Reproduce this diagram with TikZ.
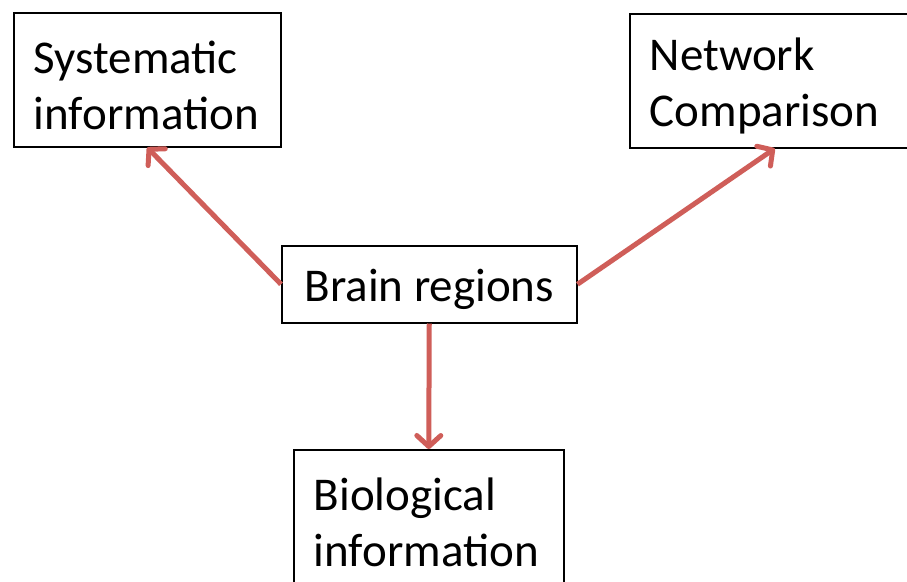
\documentclass[tikz,border=0pt]{standalone}
\usepackage{fontspec}
\setmainfont{Carlito}
\usetikzlibrary{arrows.meta}
\definecolor{arrowred}{HTML}{CF5E59}
\tikzset{
  box/.style={draw=black, line width=1.5pt, rectangle, anchor=north west,
    align=left, inner xsep=20pt, inner ysep=0pt,
    font=\fontsize{47}{56}\selectfont,
    execute at begin node={\rule{0pt}{43pt}}},
  tallbox/.style={box, minimum height=134pt},
  link/.style={draw=arrowred, line width=5pt,
    -{Straight Barb[length=11pt,width=24pt,line width=5pt,round]}}
}
\begin{document}
\begin{tikzpicture}[x=1pt,y=-1pt]
\useasboundingbox (0,0) rectangle (907,581);
\node[tallbox, minimum width=267pt, text width=227pt] (sys) at (13,12) {Systematic\\information};
\node[tallbox, minimum width=290pt, text width=250pt] (net) at (629,13) {Network\\Comparison};
\node[box, minimum width=295pt, minimum height=77pt, inner xsep=0pt] (brain) at (281,245) {Brain regions};
\node[tallbox, minimum width=270pt, text width=230pt] (bio) at (293,449) {Biological\\information};
\draw[link] (brain.west) -- (sys.south);
\draw[link] (brain.east) -- (net.south);
\draw[link] (brain.south) -- (bio.north);
\end{tikzpicture}
\end{document}
